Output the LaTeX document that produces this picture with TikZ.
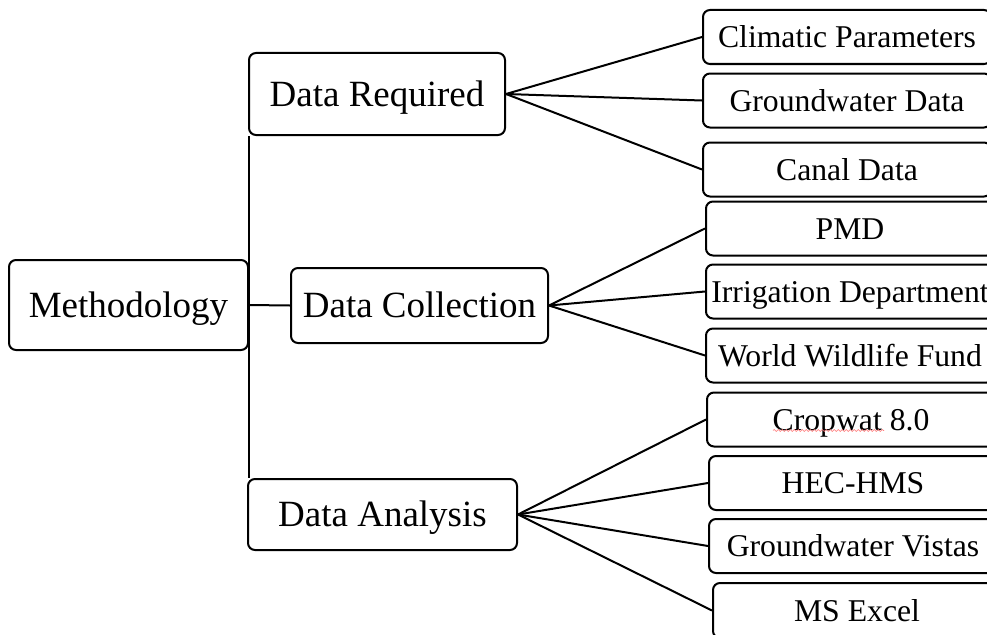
\documentclass[tikz,border=0pt]{standalone}
\usepackage{fontspec}
\setmainfont{Liberation Serif}
\usetikzlibrary{calc,decorations.pathmorphing}

\tikzset{
  box/.style={draw, line width=2pt, rounded corners=7pt, inner sep=0pt,
    fill=white},
  topbox/.style={box, font=\fontsize{37}{40}\selectfont,
    text height=30pt, text depth=5.5pt},
  leafbox/.style={box, font=\fontsize{31.7}{34}\selectfont,
    text height=26pt, text depth=5pt,
    minimum width=288pt, minimum height=54pt, anchor=west},
  link/.style={line width=2pt}
}

\begin{document}
\begin{tikzpicture}[x=1pt,y=-1pt]
\useasboundingbox (0,0) rectangle (987,634);
\clip (0,0) rectangle (987,634);
\fill[white] (0,0) rectangle (987,634);

% root and first level
\node[topbox, minimum width=239pt, minimum height=90pt] (M)  at (128.5,305) {Methodology};
\node[topbox, minimum width=256pt, minimum height=82pt] (DR) at (377,94)    {Data Required};
\node[topbox, minimum width=257pt, minimum height=75pt] (DC) at (419.5,305.5) {Data Collection};
\node[topbox, minimum width=269pt, minimum height=71pt] (DA) at (382.5,514.5) {Data Analysis};

% second level
\node[leafbox] (CP)  at (702,37)    {Climatic Parameters};
\node[leafbox] (GD)  at (702,100.5) {Groundwater Data};
\node[leafbox] (CD)  at (702,169.5) {Canal Data};
\node[leafbox] (PMD) at (705,228.5) {PMD};
\node[leafbox] (ID)  at (705,291.5) {Irrigation Department};
\node[leafbox] (WWF) at (705,355.5) {World Wildlife Fund};
\node[leafbox] (CW)  at (706,419.5) {Cropwat 8.0};
\node[leafbox] (HH)  at (708,483)   {HEC-HMS};
\node[leafbox] (GV)  at (708,546)   {Groundwater Vistas};
\node[leafbox, minimum height=55pt] (MS) at (712,610.5) {MS Excel};

% vertical trunk along the root's right edge
\draw[link] (M.east |- DR.south) -- (M.east |- DA.north);
\draw[link] (M.east) -- (DC.west);

% fans to the leaves
\foreach \c in {CP,GD,CD} \draw[link] (DR.east) -- (\c.west);
\foreach \c in {PMD,ID,WWF} \draw[link] (DC.east) -- (\c.west);
\foreach \c in {CW,HH,GV,MS} \draw[link] (DA.east) -- (\c.west);

% spell-check underline
\draw[red!55, line width=0.6pt,
  decorate, decoration={snake, amplitude=1pt, segment length=4pt}]
  ($(CW.center)+(-78,11)$) -- ($(CW.center)+(33,11)$);
\end{tikzpicture}
\end{document}
